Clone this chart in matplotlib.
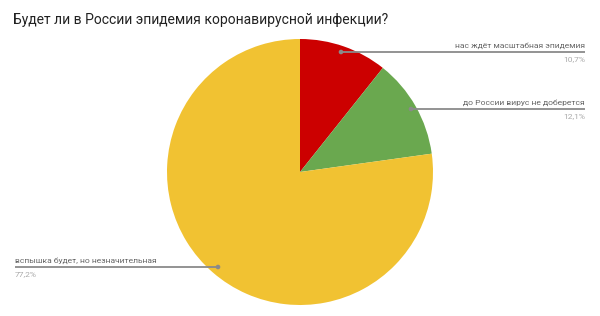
import matplotlib.pyplot as plt
from matplotlib.patches import Circle

plt.rcParams["font.family"] = ["Roboto", "DejaVu Sans"]

title = "Будет ли в России эпидемия коронавирусной инфекции?"
labels = ["нас ждёт масштабная эпидемия", "до России вирус не доберется",
          "вспышка будет, но незначительная"]
shares = [10.7, 12.1, 77.2]
colors = ["#cc0000", "#6aa84f", "#f1c232"]

W, H = 600, 316
fig = plt.figure(figsize=(W / 100, H / 100), dpi=100)
ax = fig.add_axes([0, 0, 1, 1])

cx, cy, r = 300, H - 172, 133
ax.pie(shares, colors=colors, startangle=90, counterclock=False,
       center=(cx, cy), radius=r, frame=True,
       wedgeprops=dict(linewidth=0))
ax.set_xlim(0, W)
ax.set_ylim(0, H)
ax.set_aspect("equal")
ax.axis("off")

fig.text(13 / W, 1 - 20 / H, title, fontsize=10, color="#222222",
         va="center", ha="left")

# leader lines: (dot x, dot y, line end x, text side)
leaders = [(341, 52, 585, "right"), (411, 109, 585, "right"),
           (218, 267, 15, "left")]
for (dx, dy, ex, side), lab, val in zip(leaders, labels, shares):
    y = H - dy
    ax.plot([dx, ex], [y, y], color="#8a8a8a", lw=1.3, solid_capstyle="butt")
    ax.add_patch(Circle((dx, y), 1.6, color="#8a8a8a"))
    ax.text(ex, y + 6, lab, fontsize=6.1, color="#666666", ha=side, va="center")
    ax.text(ex, y - 7, f"{val:.1f}%".replace(".", ","), fontsize=6.1,
            color="#aaaaaa", ha=side, va="center")

fig.savefig("out.png", dpi=100)
